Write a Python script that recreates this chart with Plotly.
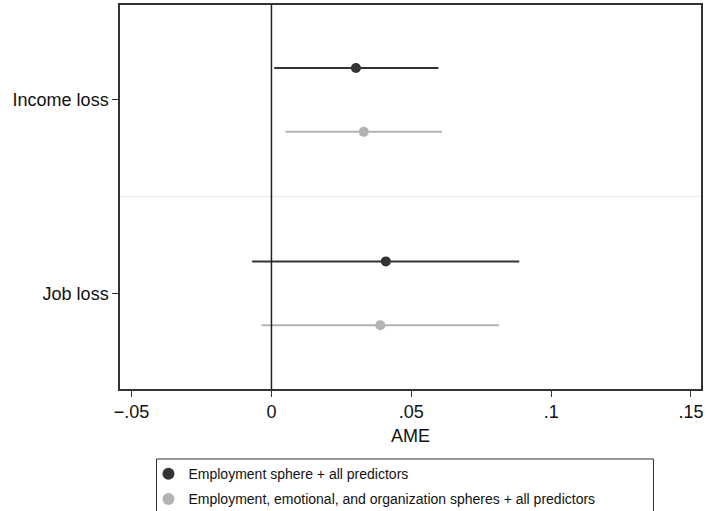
import plotly.graph_objects as go

categories = ["Income loss", "Job loss"]
cat_pos = [1, 0]
series_names = ["Employment sphere + all predictors",
                "Employment, emotional, and organization spheres + all predictors"]
ame_s1 = [0.0302, 0.0409]
lo_s1 = [0.0010, -0.0069]
hi_s1 = [0.0597, 0.0886]
ame_s2 = [0.0330, 0.0389]
lo_s2 = [0.0050, -0.0035]
hi_s2 = [0.0610, 0.0814]
offsets = [0.165, -0.165]
colors = ["#333333", "#b3b3b3"]
xtick_vals = [-0.05, 0, 0.05, 0.1, 0.15]
xtick_text = ["\u2212.05", "0", ".05", ".1", ".15"]

FONT = "Liberation Sans, Arial, sans-serif"

fig = go.Figure()
for k, (ame, lo, hi) in enumerate([(ame_s1, lo_s1, hi_s1), (ame_s2, lo_s2, hi_s2)]):
    fig.add_trace(go.Scatter(
        x=ame,
        y=[p + offsets[k] for p in cat_pos],
        mode="markers",
        name=series_names[k],
        legendgroup=f"g{k}",
        marker=dict(color=colors[k], size=10),
        error_x=dict(type="data", symmetric=False,
                     array=[h - a for h, a in zip(hi, ame)],
                     arrayminus=[a - l for a, l in zip(ame, lo)],
                     color=colors[k], thickness=2, width=0),
    ))

fig.add_shape(type="line", xref="x", yref="paper", x0=0, x1=0, y0=0, y1=1,
              line=dict(color="#222222", width=1.5), layer="above")
fig.add_shape(type="line", xref="paper", yref="y", x0=0, x1=1, y0=0.5, y1=0.5,
              line=dict(color="#eeeeee", width=1.5), layer="below")
fig.add_shape(type="rect", xref="paper", yref="paper",
              x0=0.0628, x1=0.9182, y0=-0.1823, y1=-0.36,
              line=dict(color="#333333", width=1), fillcolor="rgba(0,0,0,0)")

fig.update_layout(
    width=707, height=511,
    margin=dict(l=120, r=6, t=5, b=122, autoexpand=False),
    paper_bgcolor="white", plot_bgcolor="white",
    font=dict(family=FONT, size=18, color="#111111"),
    showlegend=True,
    legend=dict(x=0.049, y=-0.18, xanchor="left", yanchor="top",
                font=dict(size=14, family=FONT, color="#111111"),
                bgcolor="rgba(0,0,0,0)", traceorder="grouped",
                tracegroupgap=4, itemsizing="constant"),
    xaxis=dict(range=[-0.05415, 0.15358], tickvals=xtick_vals, ticktext=xtick_text,
               showgrid=False, zeroline=False, showline=True, mirror=True,
               linecolor="#333333", linewidth=1.5, ticks="outside", ticklen=6,
               tickcolor="#333333", tickfont=dict(size=18), automargin=False,
               title=dict(text="AME", font=dict(size=18), standoff=8)),
    yaxis=dict(range=[-0.495, 1.491], tickvals=cat_pos, ticktext=categories,
               showgrid=False, zeroline=False, showline=True, mirror=True,
               linecolor="#333333", linewidth=1.5, ticks="outside", ticklen=6,
               tickcolor="#333333", tickfont=dict(size=18), automargin=False),
)

fig.write_html("out.html", config={"displayModeBar": False},
               post_script="document.body.style.margin='0px';document.body.style.overflow='hidden';")
